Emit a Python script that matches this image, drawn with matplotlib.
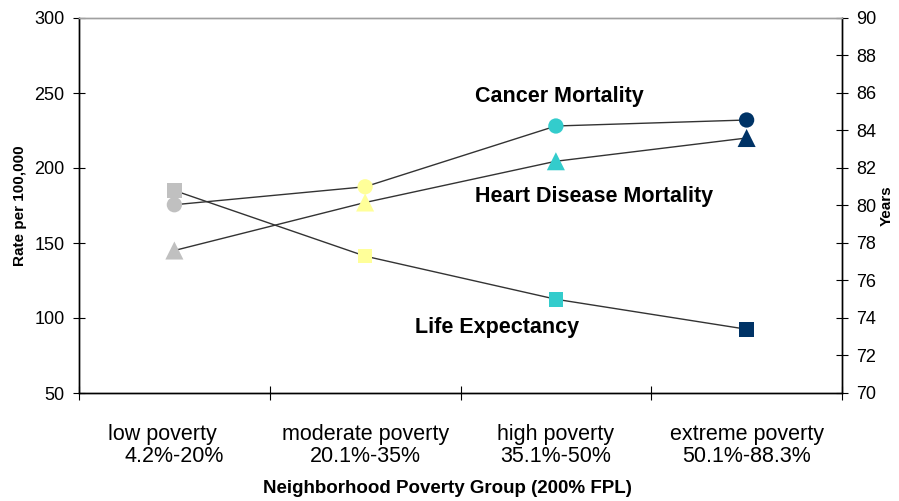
import matplotlib
matplotlib.use("Agg")
import matplotlib.pyplot as plt
from matplotlib.ticker import FixedLocator, NullFormatter

plt.rcParams['font.family'] = ['Liberation Sans', 'DejaVu Sans']

categories = ["low poverty    \n4.2%-20%", "moderate poverty\n20.1%-35%",
              "high poverty\n35.1%-50%", "extreme poverty\n50.1%-88.3%"]
cancer = [175.5, 187.5, 228, 232]
heart = [145, 177, 204.5, 220]
life_exp = [80.8, 77.3, 75.0, 73.4]
colors = ["#C0C0C0", "#FFFF99", "#33CCCC", "#003366"]

W, H = 899, 501
fig = plt.figure(figsize=(W / 100, H / 100), dpi=100)
ax = fig.add_axes([79 / W, 1 - 393 / H, (842 - 79) / W, (393 - 18) / H])
ax2 = ax.twinx()

x = list(range(len(categories)))
line_col = "#333333"

ax.plot(x, cancer, color=line_col, lw=1.0, zorder=2)
ax.scatter(x, cancer, s=11 ** 2, marker='o', c=colors, zorder=3, linewidths=0)
ax.plot(x, heart, color=line_col, lw=1.0, zorder=2)
ax.scatter(x, heart, s=13 ** 2, marker='^', c=colors, zorder=3, linewidths=0)
ax2.plot(x, life_exp, color=line_col, lw=1.0, zorder=2)
ax2.scatter(x, life_exp, s=10.5 ** 2, marker='s', c=colors, zorder=3, linewidths=0)

ax.set_xlim(-0.5, 3.5)
ax.set_ylim(50, 300)
ax2.set_ylim(70, 90)
ax.set_yticks(range(50, 301, 50))
ax2.set_yticks(range(70, 91, 2))

ax.set_xticks(x)
ax.set_xticklabels(categories, fontsize=15.5, linespacing=1.1)
ax.tick_params(axis='x', which='major', length=0, pad=22)
ax.xaxis.set_minor_locator(FixedLocator([-0.5, 0.5, 1.5, 2.5, 3.5]))
ax.xaxis.set_minor_formatter(NullFormatter())
ax.tick_params(axis='x', which='minor', direction='inout', length=10, width=0.8)

ax.tick_params(axis='y', direction='inout', length=9, width=0.8, labelsize=13, pad=6)
ax2.tick_params(axis='y', direction='inout', length=9, width=0.8, labelsize=13, pad=6)

for a in (ax, ax2):
    a.spines['top'].set_color('#A0A0A0')
    a.spines['top'].set_linewidth(1.0)
    for s in ('left', 'right', 'bottom'):
        a.spines[s].set_color('black')
        a.spines[s].set_linewidth(1.0)

ax.set_ylabel("Rate per 100,000", fontsize=11, fontweight='bold', labelpad=5)
ax2.set_ylabel("Years", fontsize=11, fontweight='bold', labelpad=2)
ax.set_xlabel("Neighborhood Poverty Group (200% FPL)", fontsize=13.5, fontweight='bold')
ax.xaxis.set_label_coords(0.483, -0.233)
ax.xaxis.label.set_va('top')

ax.text(1.575, 244, "Cancer Mortality", fontsize=15.5, fontweight='bold', ha='left', va='baseline', zorder=5)
ax.text(1.575, 177.3, "Heart Disease Mortality", fontsize=15.5, fontweight='bold', ha='left', va='baseline', zorder=5)
ax.text(1.26, 90, "Life Expectancy", fontsize=15.5, fontweight='bold', ha='left', va='baseline', zorder=5)

fig.savefig("out.png", dpi=100)
